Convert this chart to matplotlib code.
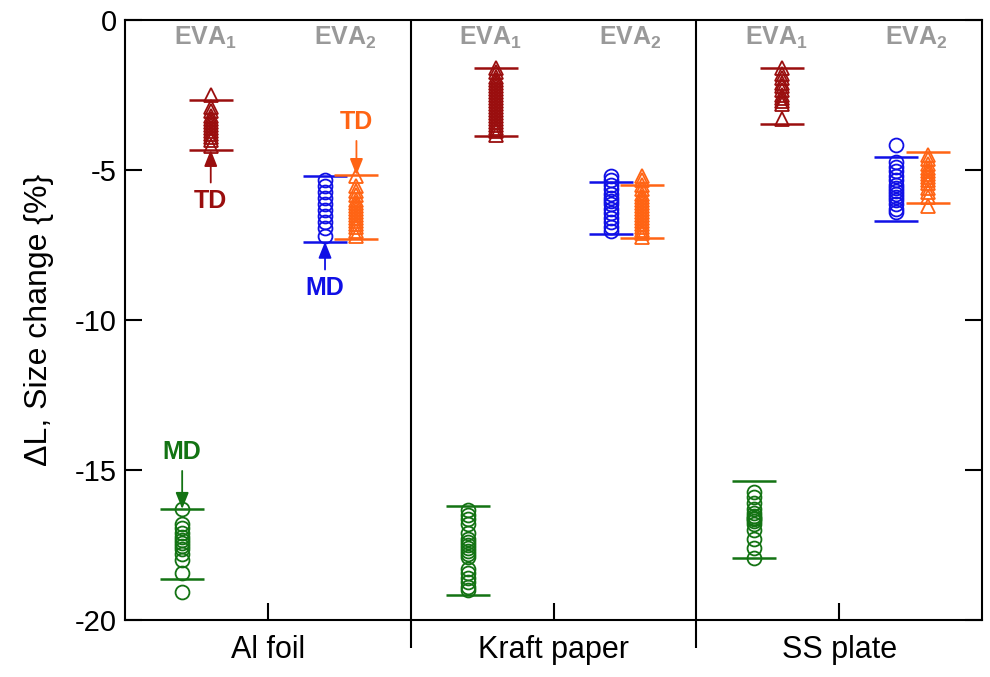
import numpy as np
import matplotlib
matplotlib.use("Agg")
import matplotlib.pyplot as plt

plt.rcParams['font.family'] = ['Liberation Sans', 'DejaVu Sans']
plt.rcParams['mathtext.default'] = 'regular'

substrates = ["Al foil", "Kraft paper", "SS plate"]

# measured size change (%) per substrate: EVA1 MD, EVA1 TD, EVA2 MD, EVA2 TD
eva1_md = [
    [-16.3, -16.8, -16.95, -17.1, -17.25, -17.35, -17.45, -17.55, -17.65, -17.8, -18.0, -18.45, -19.07],
    [-16.35, -16.5, -16.65, -16.8, -17.1, -17.3, -17.4, -17.5, -17.6, -17.7, -17.8, -17.9,
     -18.3, -18.45, -18.6, -18.75, -18.9, -19.0],
    [-15.75, -15.9, -16.1, -16.3, -16.45, -16.55, -16.6, -16.65, -16.7, -16.8, -17.0, -17.3, -17.6, -17.95],
]
eva1_td = [
    [-2.5, -2.9, -3.05, -3.2, -3.3, -3.4, -3.5, -3.6, -3.7, -3.8, -3.9, -4.0, -4.2],
    [-1.6, -1.75, -1.9, -2.0, -2.1, -2.2, -2.3, -2.4, -2.5, -2.6, -2.7, -2.8, -2.9, -3.0,
     -3.1, -3.2, -3.3, -3.4, -3.5, -3.6, -3.7, -3.85],
    [-1.6, -1.8, -1.95, -2.1, -2.2, -2.35, -2.5, -2.6, -2.7, -2.8, -3.3],
]
eva2_md = [
    [-5.35, -5.55, -5.75, -5.95, -6.15, -6.35, -6.55, -6.75, -6.95, -7.2],
    [-5.2, -5.35, -5.5, -5.65, -5.8, -5.95, -6.05, -6.15, -6.3, -6.45, -6.6, -6.75, -6.9, -7.05],
    [-4.17, -4.75, -4.9, -5.05, -5.2, -5.35, -5.5, -5.6, -5.7, -5.8, -5.9, -6.0, -6.15, -6.3, -6.4],
]
eva2_td = [
    [-5.2, -5.55, -5.7, -5.85, -6.0, -6.1, -6.2, -6.3, -6.4, -6.5, -6.6, -6.7, -6.8, -6.9, -7.05, -7.2],
    [-5.2, -5.35, -5.5, -5.65, -5.8, -5.9, -6.0, -6.1, -6.2, -6.3, -6.4, -6.5, -6.6, -6.7,
     -6.8, -6.9, -7.0, -7.1, -7.25],
    [-4.5, -4.65, -4.8, -4.95, -5.05, -5.15, -5.25, -5.35, -5.45, -5.6, -5.75, -5.9, -6.2],
]

# error bar caps (upper, lower) per substrate
eva1_md_caps = [(-16.3, -18.63), (-16.2, -19.17), (-15.37, -17.93)]
eva1_td_caps = [(-2.67, -4.33), (-1.6, -3.87), (-1.6, -3.47)]
eva2_md_caps = [(-5.2, -7.39), (-5.4, -7.13), (-4.56, -6.7)]
eva2_td_caps = [(-5.17, -7.3), (-5.5, -7.27), (-4.4, -6.1)]

c_green = "#137313"
c_dred = "#9a0e0e"
c_blue = "#1010e6"
c_orange = "#ff6414"

series = [
    (eva1_md, eva1_md_caps, 0.20, c_green, "o"),
    (eva1_td, eva1_td_caps, 0.30, c_dred, "^"),
    (eva2_md, eva2_md_caps, 0.70, c_blue, "o"),
    (eva2_td, eva2_td_caps, 0.81, c_orange, "^"),
]

fig = plt.figure(figsize=(9.9, 6.77), dpi=100)
ax = fig.add_axes([0.1263, 0.0842, 0.8657, 0.8863])

for vals, caps, off, col, mk in series:
    for i, v in enumerate(vals):
        x = i + off
        ax.plot([x] * len(v), v, linestyle="none", marker=mk, ms=10,
                mfc="none", mec=col, mew=1.3, zorder=3)
        hi, lo = caps[i]
        ax.errorbar([x], [(hi + lo) / 2], yerr=[(hi - lo) / 2], fmt="none",
                    ecolor=col, elinewidth=0, capsize=16, capthick=1.8, zorder=2)

# group separators
for s in [1, 2]:
    ax.axvline(s, color="black", lw=1.5, zorder=1)

ax.set_xlim(0, 3)
ax.set_ylim(-20, 0)
ax.set_yticks([0, -5, -10, -15, -20])
ax.set_yticklabels(["0", "-5", "-10", "-15", "-20"])
ax.set_xticks([0.5, 1.5, 2.5])
ax.set_xticklabels(substrates)
ax.set_xticks([1, 2], minor=True)
ax.tick_params(axis="x", which="major", direction="in", length=12, width=1.5,
               labelsize=22, pad=11)
ax.tick_params(axis="x", which="minor", direction="out", length=20, width=1.5)
ax.tick_params(axis="y", direction="in", length=12, width=1.5, labelsize=21,
               right=True, pad=6)
for sp in ax.spines.values():
    sp.set_linewidth(1.5)

ax.set_ylabel("\u0394L, Size change {%}", fontsize=23, labelpad=15)

# EVA labels
for i in range(3):
    ax.text(i + 0.28, -0.6, "EVA$_1$", color="#999999", fontsize=18,
            fontweight="bold", ha="center", va="center")
    ax.text(i + 0.77, -0.6, "EVA$_2$", color="#999999", fontsize=18,
            fontweight="bold", ha="center", va="center")

# direction annotations (Al foil)
arrow = dict(arrowstyle="-|>,head_length=0.55,head_width=0.22", lw=1.3,
             mutation_scale=18, shrinkA=3, shrinkB=0)
ax.annotate("TD", xy=(0.30, -4.33), xytext=(0.30, -6.05), color=c_dred,
            fontsize=18, fontweight="bold", ha="center", va="center",
            arrowprops=dict(arrow, color=c_dred))
ax.annotate("TD", xy=(0.81, -5.17), xytext=(0.81, -3.4), color=c_orange,
            fontsize=18, fontweight="bold", ha="center", va="center",
            arrowprops=dict(arrow, color=c_orange))
ax.annotate("MD", xy=(0.70, -7.39), xytext=(0.70, -8.95), color=c_blue,
            fontsize=18, fontweight="bold", ha="center", va="center",
            arrowprops=dict(arrow, color=c_blue))
ax.annotate("MD", xy=(0.20, -16.3), xytext=(0.20, -14.4), color=c_green,
            fontsize=18, fontweight="bold", ha="center", va="center",
            arrowprops=dict(arrow, color=c_green))

fig.savefig("out.png", dpi=100)
